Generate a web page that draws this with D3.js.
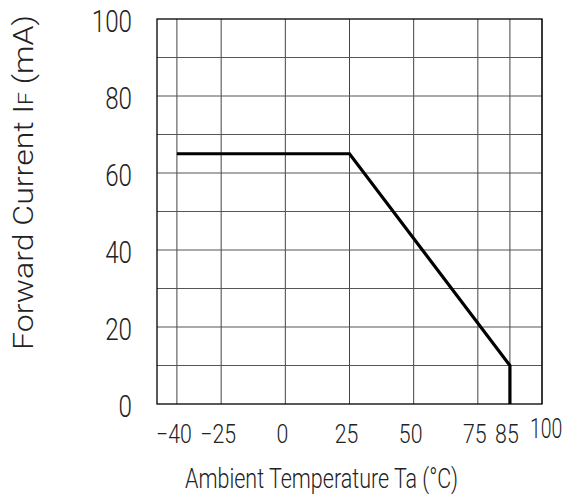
<!DOCTYPE html>
<html>
<head>
<meta charset="utf-8">
<script src="https://cdn.jsdelivr.net/npm/d3@7"></script>
<style>
  body { margin: 0; background: #fff; }
  text { font-family: Roboto, "DejaVu Sans", sans-serif; font-weight: 300; fill: #222; }
</style>
</head>
<body>
<svg id="chart" width="563" height="494"></svg>
<script>
// derating curve
var tempPts    = [-40, 25, 85, 85];
var currentPts = [65, 65, 10, 0];

var xTicks  = [-40, -25, 0, 25, 50, 75, 85, 100];
var yTicks  = [0, 20, 40, 60, 80, 100];
var yGrid   = [10, 20, 30, 40, 50, 60, 70, 80, 90];

var margin = {left: 157, top: 19, right: 21, bottom: 90};
var svg = d3.select('#chart');
var W = +svg.attr('width'), H = +svg.attr('height');
var w = W - margin.left - margin.right;
var h = H - margin.top - margin.bottom;

// the temperature axis is schematic: -40 and 85 sit off the 25-degree grid
var step = w / 6;
var x = d3.scaleLinear()
  .domain([-50, -40, -25, 75, 85, 100])
  .range([0, 0.31 * step, step, 5 * step, 5.5 * step, 6 * step]);
var y = d3.scaleLinear().domain([0, 100]).range([h, 0]);

var g = svg.append('g').attr('transform', 'translate(' + margin.left + ',' + margin.top + ')');

// grid
g.selectAll('.vgrid').data(xTicks).enter().append('line')
  .attr('x1', d => x(d)).attr('x2', d => x(d))
  .attr('y1', 0).attr('y2', h)
  .attr('stroke', '#444').attr('stroke-width', 1);

g.selectAll('.hgrid').data(yGrid).enter().append('line')
  .attr('x1', 0).attr('x2', w)
  .attr('y1', d => y(d)).attr('y2', d => y(d))
  .attr('stroke', '#555').attr('stroke-width', 1);

g.append('rect')
  .attr('x', 0).attr('y', 0).attr('width', w).attr('height', h)
  .attr('fill', 'none').attr('stroke', '#000').attr('stroke-width', 1.3);

// curve
var pts = tempPts.map((t, i) => [t, currentPts[i]]);
g.append('path')
  .datum(pts)
  .attr('fill', 'none').attr('stroke', '#000').attr('stroke-width', 3.2)
  .attr('stroke-linejoin', 'miter')
  .attr('d', d3.line().x(d => x(d[0])).y(d => y(d[1])));

// y tick labels
g.selectAll('.ylab').data(yTicks).enter().append('text')
  .attr('transform', d => 'translate(-25,' + (y(d) + 13) + ') scale(0.78,1)')
  .attr('text-anchor', 'end')
  .attr('font-size', 31)
  .text(d => d);

// x tick labels; the last one is squeezed against the right edge
g.selectAll('.xlab').data(xTicks).enter().append('text')
  .attr('transform', function(d) {
    if (d == 100) return 'translate(' + (x(d) - 12) + ',' + (h + 34) + ') scale(0.72,1)';
    return 'translate(' + (x(d) - 3) + ',' + (h + 39) + ') scale(0.82,1)';
  })
  .attr('text-anchor', d => d == 100 ? 'start' : 'middle')
  .attr('font-size', d => d == 100 ? 27 : 26)
  .text(d => (d < 0 ? '\u2212' : '') + Math.abs(d));

// axis titles
svg.append('text')
  .attr('x', 185).attr('y', 488)
  .attr('font-size', 27)
  .attr('textLength', 273).attr('lengthAdjust', 'spacingAndGlyphs')
  .text('Ambient Temperature Ta (°C)');

var yt = svg.append('text')
  .attr('transform', 'translate(33,350) rotate(-90)')
  .attr('font-size', 28)
  .attr('textLength', 335).attr('lengthAdjust', 'spacingAndGlyphs');
yt.append('tspan').text('Forward Current I');
yt.append('tspan').attr('font-size', 20).text('F');
yt.append('tspan').text(' (mA)');
</script>
</body>
</html>
